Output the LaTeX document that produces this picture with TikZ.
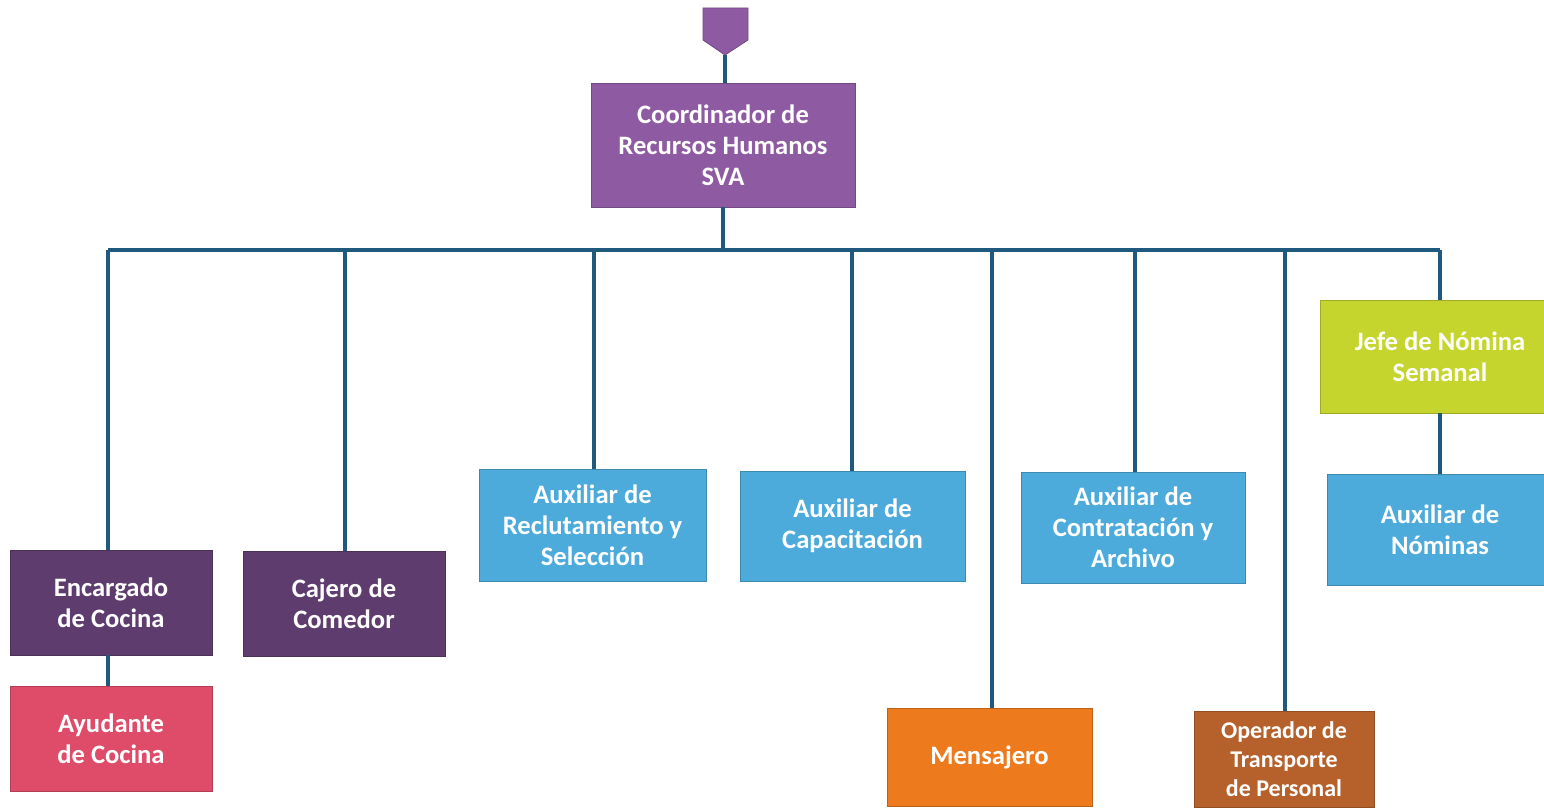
\documentclass[tikz,border=0pt]{standalone}
\usepackage{fontspec}
\setmainfont{Carlito}
\definecolor{cpurple}{HTML}{8E5BA3}
\definecolor{dpurple}{HTML}{5E3C6E}
\definecolor{cpink}{HTML}{DE4C69}
\definecolor{cblue}{HTML}{4DABDC}
\definecolor{corange}{HTML}{EE7A1E}
\definecolor{cbrown}{HTML}{B6612B}
\definecolor{cyellow}{HTML}{C5D52E}
\definecolor{cline}{HTML}{1F5A7E}
\begin{document}
\begin{tikzpicture}[x=0.5pt,y=-0.5pt,
  box/.style={draw=#1!80!black, line width=0.4pt, fill=#1, text=white, align=center,
    font=\bfseries\fontsize{13.3}{15.5}\selectfont, inner sep=0pt},
  conn/.style={draw=cline, line width=2pt}]
\useasboundingbox (0,0) rectangle (1544,808);
\clip (0,0) rectangle (1544,808);
% top marker
\draw[fill=cpurple, draw=cpurple!80!black, line width=0.4pt] (703,8) -- (748,8) -- (748,40) -- (725,55) -- (703,40) -- cycle;
\coordinate (tip) at (725,55);
% coordinator
\node[box=cpurple, minimum width=132pt, minimum height=62pt] (coord) at (723,145) {Coordinador de\\Recursos Humanos\\SVA};
% bus
\coordinate (bL) at (108,250);
\coordinate (bR) at (1440,250);
% children
\node[box=dpurple, minimum width=101pt, minimum height=52.5pt] (enc) at (111,602.5) {Encargado\\de Cocina};
\node[box=cpink, minimum width=101pt, minimum height=52.5pt] (ayu) at (111,738.5) {Ayudante\\de Cocina};
\node[box=dpurple, minimum width=101pt, minimum height=52.5pt] (caj) at (344,603.5) {Cajero de\\Comedor};
\node[box=cblue, minimum width=113.5pt, minimum height=56pt] (rec) at (592.5,525) {Auxiliar de\\Reclutamiento y\\Selección};
\node[box=cblue, minimum width=112.5pt, minimum height=55pt] (cap) at (852.5,526) {Auxiliar de\\Capacitación};
\node[box=corange, minimum width=102.5pt, minimum height=49pt] (men) at (989.5,757) {Mensajero};
\node[box=cblue, minimum width=112pt, minimum height=55.5pt] (con) at (1133,527.5) {Auxiliar de\\Contratación y\\Archivo};
\node[box=cbrown, minimum width=90pt, minimum height=48pt, font=\bfseries\fontsize{12}{14.5}\selectfont] (ope) at (1284,759) {Operador de\\Transporte\\de Personal};
\node[box=cyellow, minimum width=120pt, minimum height=56.5pt] (jef) at (1440,356.5) {Jefe de Nómina\\Semanal};
\node[box=cblue, minimum width=113pt, minimum height=55.5pt] (nom) at (1440,529.5) {Auxiliar de\\Nóminas};
% connectors
\draw[conn] (tip) -- (tip |- coord.north);
\draw[conn] (coord.south) -- (coord.south |- bL);
\draw[conn] (bL) -- (bR);
\draw[conn] (bL) -- (bL |- enc.north);
\draw[conn] (bL |- enc.south) -- (bL |- ayu.north);
\coordinate (b2) at (345,250);
\draw[conn] (b2) -- (b2 |- caj.north);
\coordinate (b3) at (594,250);
\draw[conn] (b3) -- (b3 |- rec.north);
\coordinate (b4) at (852,250);
\draw[conn] (b4) -- (b4 |- cap.north);
\coordinate (b5) at (992,250);
\draw[conn] (b5) -- (b5 |- men.north);
\coordinate (b6) at (1135,250);
\draw[conn] (b6) -- (b6 |- con.north);
\coordinate (b7) at (1285,250);
\draw[conn] (b7) -- (b7 |- ope.north);
\draw[conn] (bR) -- (bR |- jef.north);
\draw[conn] (jef.south) -- (nom.north);
\end{tikzpicture}
\end{document}
